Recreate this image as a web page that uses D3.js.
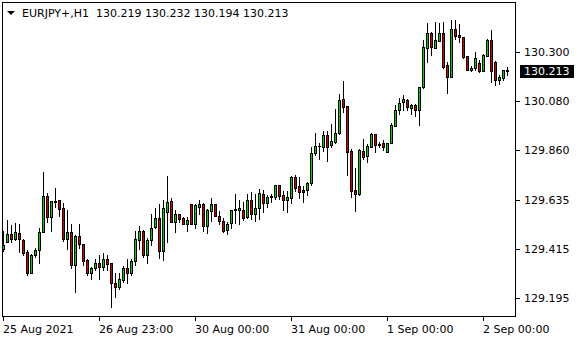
<!DOCTYPE html>
<html><head><meta charset="utf-8">
<script src="https://cdn.jsdelivr.net/npm/d3@7/dist/d3.min.js"></script>
<style>body{margin:0;background:#fff}svg{display:block}</style>
</head><body>
<svg id="c" width="580" height="340"></svg>
<script>
const symbolTitle = "EURJPY+,H1";
const lastOHLC = [130.219, 130.232, 130.194, 130.213];
const openP = [129.414,129.446,129.480,129.459,129.484,129.454,129.400,129.308,129.389,129.408,
129.490,129.652,129.556,129.626,129.634,129.596,129.457,129.490,129.342,129.474,
129.435,129.363,129.304,129.328,129.353,129.331,129.371,129.349,129.259,129.241,
129.274,129.328,129.304,129.359,129.454,129.494,129.389,129.452,129.513,129.551,
129.405,129.578,129.629,129.536,129.569,129.551,129.528,129.618,129.524,129.603,
129.614,129.518,129.585,129.614,129.564,129.540,129.498,129.531,129.591,129.588,
129.587,129.558,129.636,129.573,129.598,129.663,129.621,129.649,129.648,129.703,
129.655,129.636,129.643,129.736,129.696,129.678,129.678,129.708,129.846,129.876,
129.873,129.924,129.880,129.895,129.933,130.086,130.054,129.853,129.678,129.660,
129.853,129.832,129.873,129.930,129.884,129.888,129.850,129.888,129.967,130.037,
130.075,130.082,130.048,130.060,130.040,130.142,130.315,130.382,130.318,130.349,
130.382,130.240,130.187,130.402,130.375,130.364,130.280,130.217,130.229,130.250,
130.213,130.282,130.352,130.255,130.175,130.183,130.219];
const highP = [129.495,129.543,129.521,129.531,129.524,129.457,129.409,129.390,129.420,129.506,
129.760,129.667,129.631,129.690,129.634,129.622,129.589,129.528,129.476,129.525,
129.435,129.368,129.334,129.367,129.389,129.394,129.386,129.352,129.308,129.307,
129.337,129.370,129.367,129.494,129.518,129.500,129.463,129.569,129.600,129.614,
129.633,129.741,129.644,129.591,129.571,129.558,129.558,129.618,129.618,129.633,
129.621,129.593,129.641,129.614,129.585,129.551,129.536,129.591,129.659,129.636,
129.623,129.659,129.671,129.663,129.685,129.678,129.655,129.663,129.703,129.703,
129.673,129.675,129.741,129.745,129.735,129.697,129.715,129.870,129.933,129.891,
129.943,129.943,129.975,130.041,130.110,130.168,130.054,129.865,129.778,129.865,
129.907,129.885,129.933,129.930,129.895,129.902,129.890,129.978,130.060,130.090,
130.105,130.087,130.067,130.063,130.142,130.352,130.427,130.387,130.435,130.427,
130.432,130.255,130.442,130.442,130.424,130.367,130.280,130.237,130.297,130.262,
130.288,130.355,130.397,130.259,130.195,130.217,130.232];
const lowP = [129.405,129.444,129.446,129.453,129.401,129.386,129.296,129.306,129.378,129.353,
129.490,129.536,129.496,129.604,129.564,129.449,129.412,129.329,129.221,129.420,
129.341,129.296,129.281,129.319,129.280,129.319,129.319,129.154,129.196,129.236,
129.266,129.259,129.296,129.341,129.412,129.378,129.352,129.431,129.506,129.375,
129.363,129.446,129.534,129.491,129.536,129.525,129.495,129.524,129.509,129.573,
129.495,129.486,129.540,129.563,129.525,129.491,129.483,129.506,129.531,129.528,
129.543,129.551,129.550,129.540,129.550,129.580,129.603,129.625,129.640,129.640,
129.591,129.580,129.621,129.673,129.643,129.625,129.655,129.700,129.835,129.816,
129.855,129.810,129.873,129.891,129.930,130.030,129.745,129.648,129.585,129.655,
129.817,129.805,129.870,129.850,129.870,129.857,129.848,129.888,129.967,130.022,
130.037,130.037,130.022,130.010,129.970,130.139,130.255,130.285,130.315,130.349,
130.229,130.115,130.187,130.355,130.345,130.270,130.217,130.213,130.217,130.207,
130.213,130.282,130.162,130.150,130.154,130.172,130.194];
const closeP = [129.430,129.480,129.459,129.491,129.457,129.394,129.304,129.389,129.408,129.490,
129.652,129.556,129.631,129.628,129.592,129.458,129.490,129.342,129.472,129.434,
129.360,129.304,129.328,129.349,129.331,129.371,129.346,129.259,129.241,129.277,
129.328,129.304,129.359,129.457,129.494,129.386,129.454,129.510,129.551,129.405,
129.596,129.623,129.536,129.569,129.548,129.528,129.543,129.524,129.611,129.615,
129.518,129.588,129.614,129.563,129.540,129.495,129.528,129.588,129.593,129.596,
129.551,129.636,129.573,129.600,129.667,129.621,129.648,129.651,129.703,129.652,
129.636,129.646,129.736,129.688,129.670,129.670,129.708,129.847,129.876,129.877,
129.924,129.873,129.898,129.937,130.083,130.053,129.850,129.675,129.660,129.858,
129.828,129.876,129.930,129.883,129.881,129.872,129.888,129.970,130.037,130.070,
130.087,130.052,130.060,130.040,130.142,130.319,130.382,130.319,130.352,130.382,
130.232,130.187,130.402,130.372,130.364,130.277,130.220,130.229,130.270,130.213,
130.285,130.352,130.214,130.175,130.187,130.217,130.213];
const xTickLabels = ["25 Aug 2021","26 Aug 23:00","30 Aug 00:00","31 Aug 00:00","1 Sep 00:00","2 Sep 00:00"];
const xTickBars = [0,24,48,72,96,120];
const yTickLabels = ["130.300","130.080","129.860","129.635","129.415","129.195"];

const FONT = "DejaVu Sans, sans-serif";
const bullFill = "#00d000", bearFill = "#d00000";
const svg = d3.select("#c");
const n = openP.length;
const x = d3.scaleLinear().domain([0, n - 1]).range([3, 3 + 4 * (n - 1)]);
const y = d3.scaleLinear().domain([129.195, 130.300]).range([297.7, 51.7]);
const data = openP.map((o, i) => ({i, o, h: highP[i], l: lowP[i], c: closeP[i]}));

// frame
svg.append("rect").attr("x", 2.5).attr("y", 2.5).attr("width", 513).attr("height", 314)
  .attr("fill", "none").attr("stroke", "#000").attr("shape-rendering", "crispEdges");

const g = svg.append("g").attr("shape-rendering", "crispEdges");
const cand = g.selectAll("g.c").data(data).join("g");
cand.append("line")
  .attr("x1", d => Math.round(x(d.i)) + 0.5).attr("x2", d => Math.round(x(d.i)) + 0.5)
  .attr("y1", d => Math.round(y(d.h))).attr("y2", d => Math.round(y(d.l)) + 1)
  .attr("stroke", "#000");
cand.each(function(d) {
  const cx = Math.round(x(d.i));
  const yt = Math.round(y(Math.max(d.o, d.c)));
  const yb = Math.round(y(Math.min(d.o, d.c)));
  const sel = d3.select(this);
  if (yb - yt < 1) {
    sel.append("line").attr("x1", cx - 1).attr("x2", cx + 2)
      .attr("y1", yt + 0.5).attr("y2", yt + 0.5).attr("stroke", "#000");
  } else {
    sel.append("rect").attr("x", cx - 0.5).attr("y", yt + 0.5)
      .attr("width", 2).attr("height", yb - yt)
      .attr("fill", d.c >= d.o ? bullFill : bearFill).attr("stroke", "#000");
  }
});

// y axis
const ya = svg.append("g");
yTickLabels.forEach(t => {
  const yy = Math.round(y(+t));
  ya.append("line").attr("x1", 516).attr("x2", 520).attr("y1", yy + 0.5).attr("y2", yy + 0.5)
    .attr("stroke", "#000").attr("shape-rendering", "crispEdges");
  ya.append("text").attr("x", 524).attr("y", yy + 4).text(t)
    .attr("font-family", FONT).attr("font-size", 11).attr("fill", "#000");
});
const lp = lastOHLC[3];
const ly = Math.round(y(lp));
ya.append("rect").attr("x", 520).attr("y", ly - 6).attr("width", 54).attr("height", 13).attr("fill", "#000");
ya.append("text").attr("x", 524).attr("y", ly + 4).text(lp.toFixed(3))
  .attr("font-family", FONT).attr("font-size", 11).attr("fill", "#fff");

// x axis
const xa = svg.append("g");
xTickBars.forEach((b, k) => {
  const xx = Math.round(x(b));
  xa.append("line").attr("x1", xx + 0.5).attr("x2", xx + 0.5).attr("y1", 317).attr("y2", 321)
    .attr("stroke", "#000").attr("shape-rendering", "crispEdges");
  xa.append("text").attr("x", xx).attr("y", 333).text(xTickLabels[k])
    .attr("font-family", FONT).attr("font-size", 11).attr("fill", "#000");
});

// title
svg.append("path").attr("d", "M7,11 L15,11 L11,15 Z").attr("fill", "#000");
svg.append("text").attr("x", 22).attr("y", 17)
  .text(symbolTitle + "  " + lastOHLC.map(v => v.toFixed(3)).join(" "))
  .attr("font-family", FONT).attr("font-size", 11).attr("fill", "#000")
  .style("white-space", "pre");
</script>
</body></html>
